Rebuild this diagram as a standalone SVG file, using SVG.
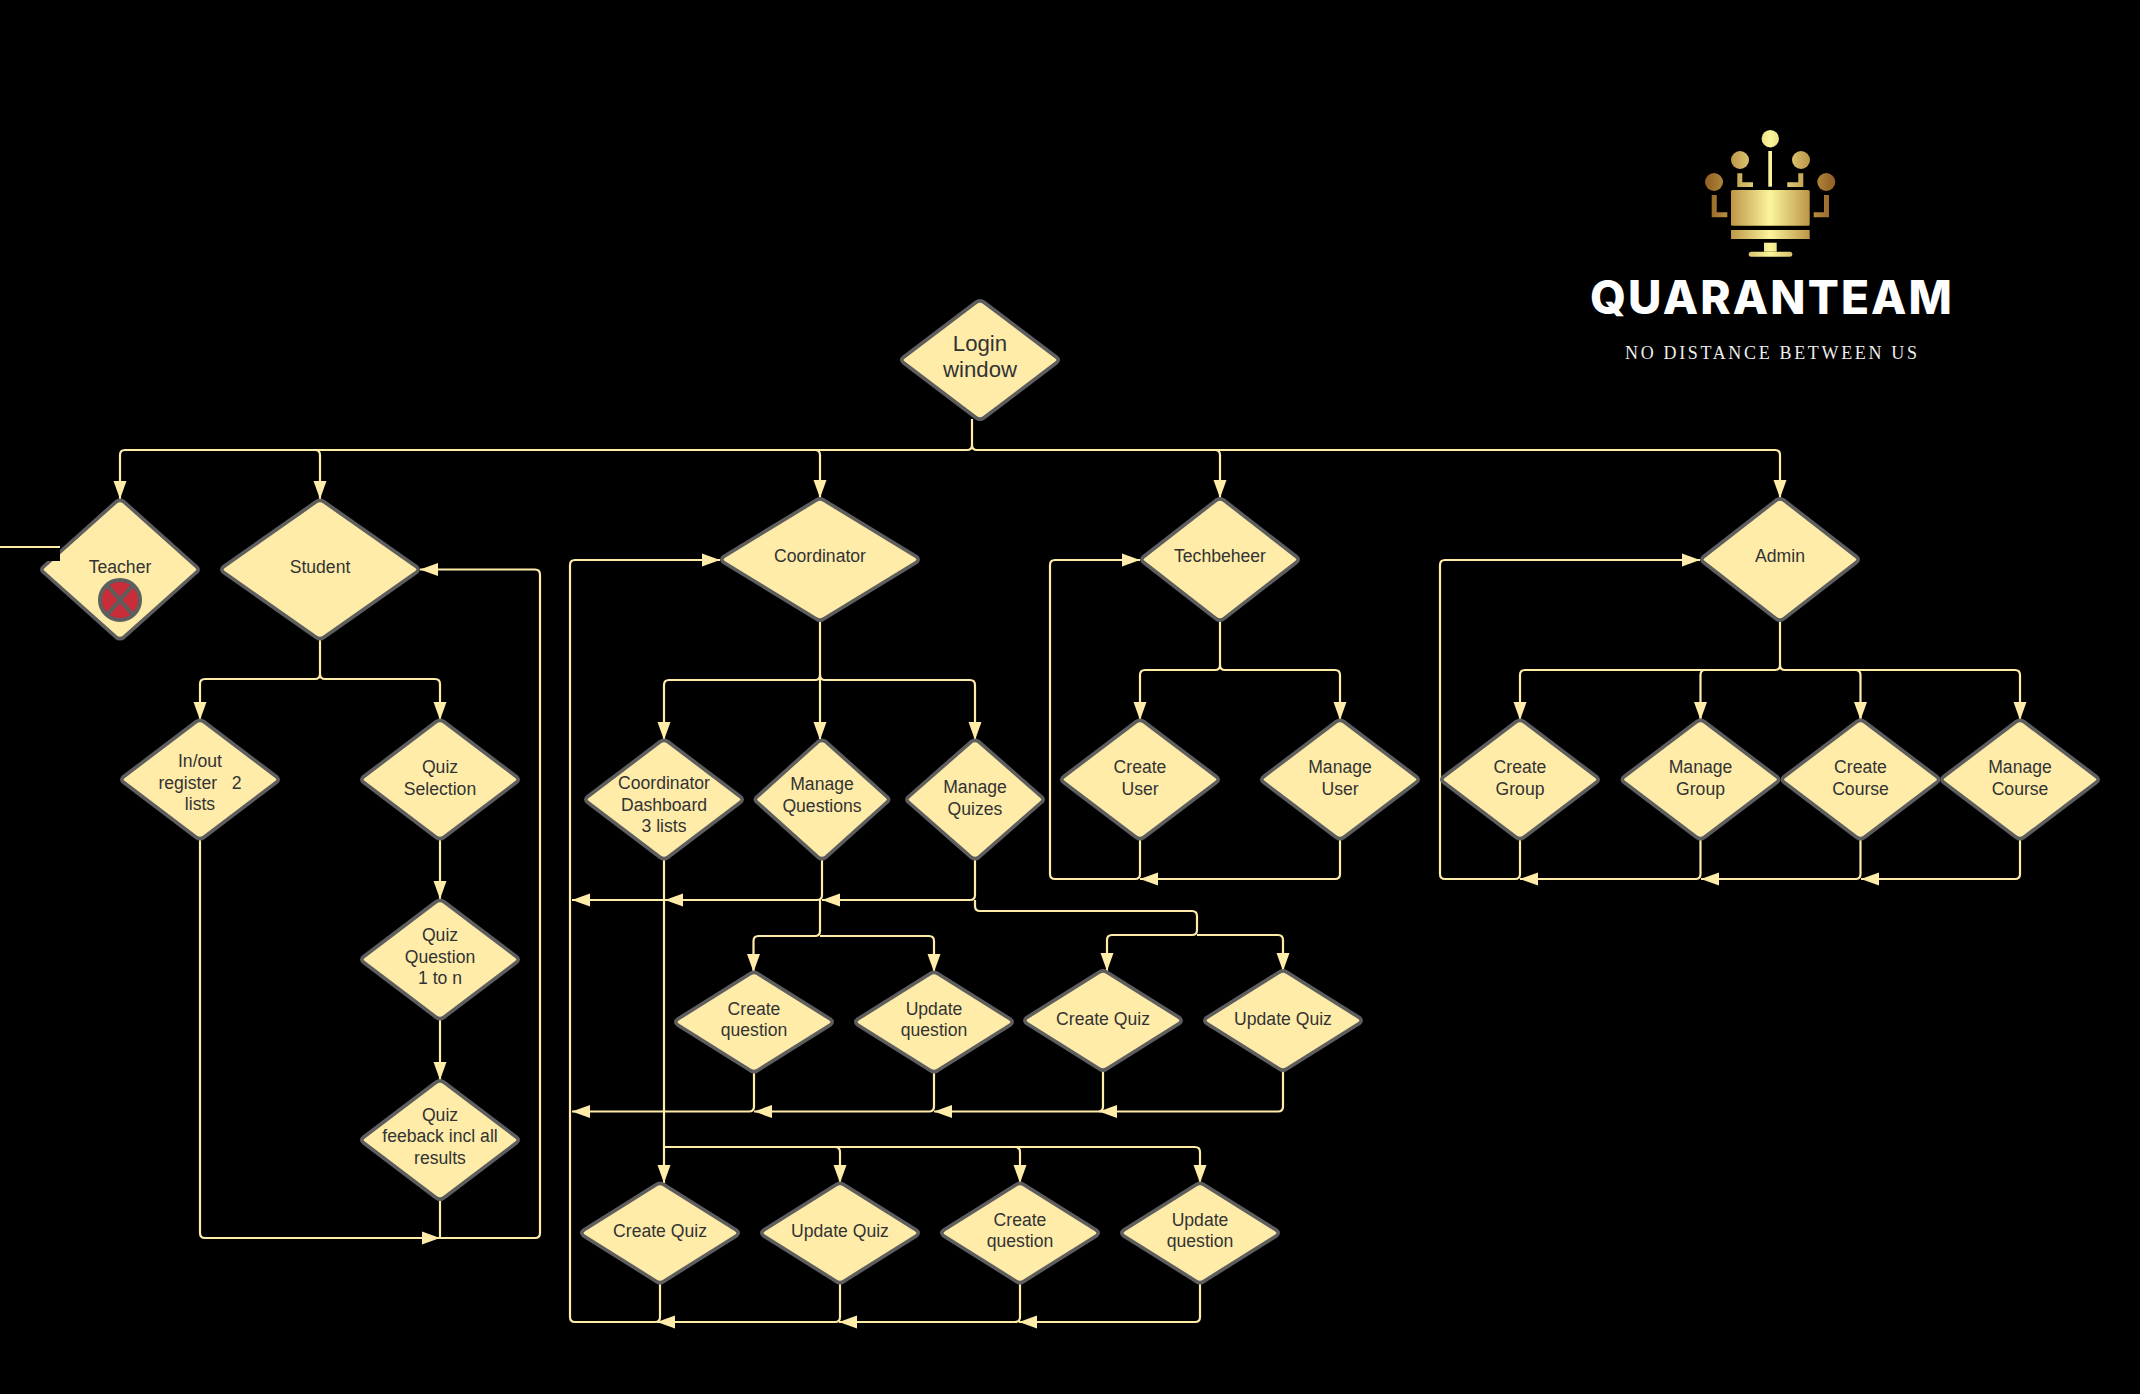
<svg xmlns="http://www.w3.org/2000/svg" width="2140" height="1394" viewBox="0 0 2140 1394">
<style>
.c{fill:none;stroke:#ffeca9;stroke-width:2.2}
.a{marker-end:url(#ah)}
.n{fill:#ffeca9;stroke:#5e5e5e;stroke-width:3.6;stroke-linejoin:round}
text{font-family:"Liberation Sans",Arial,sans-serif;font-size:17.6px;fill:#333;text-anchor:middle}
</style>
<defs>
<marker id="ah" markerUnits="userSpaceOnUse" markerWidth="19" markerHeight="16" refX="18" refY="7.5" orient="auto"><path d="M0 1L18 7.500L0 14Z" fill="#ffeca9"/></marker>
<path id="d78" d="M-4-57.700Q0-60.700 4-57.700L76.200-3Q80.200 0 76.200 3L4 57.700Q0 60.700-4 57.700L-76.200 3Q-80.200 0-76.200-3Z"/>
<path id="s78" d="M-4-48.200Q0-51.200 4-48.200L76.200-3Q80.200 0 76.200 3L4 48.200Q0 51.200-4 48.200L-76.200 3Q-80.200 0-76.200-3Z"/>
<path id="t78" d="M-4-59.200Q0-62.200 4-59.200L76.200-3Q80.200 0 76.200 3L4 59.200Q0 62.200-4 59.200L-76.200 3Q-80.200 0-76.200-3Z"/>
<linearGradient id="g" gradientUnits="userSpaceOnUse" x1="1705" y1="0" x2="1835" y2="0"><stop offset="0" stop-color="#8f5e22"/><stop offset=".2" stop-color="#bd9748"/><stop offset=".5" stop-color="#fbf59b"/><stop offset=".8" stop-color="#bd9748"/><stop offset="1" stop-color="#8f5e22"/></linearGradient>
</defs>
<rect width="2140" height="1394" fill="#000"/>
<g id="connectors">
<path class="c a" d="M972 419V445Q972 450 967 450H125Q120 450 120 455V499"/>
<path class="c a" d="M315 450Q320 450 320 455V499"/>
<path class="c a" d="M815 450Q820 450 820 455V498"/>
<path class="c a" d="M972 445Q972 450 977 450H1775Q1780 450 1780 455V498"/>
<path class="c a" d="M1215 450Q1220 450 1220 455V498"/>
<path class="c" d="M0 547H60"/>
<path class="c" d="M320 638V674Q320 679 315 679H205Q200 679 200 684"/>
<path class="c a" d="M200 684V720"/>
<path class="c a" d="M320 674Q320 679 325 679H435Q440 679 440 684V720"/>
<path class="c a" d="M440 838V899"/>
<path class="c a" d="M440 1018V1080"/>
<path class="c a" d="M200 838V1233Q200 1238 205 1238H440"/>
<path class="c a" d="M440 1198V1238H535Q540 1238 540 1233V574.500Q540 569.500 535 569.500H420"/>
<path class="c a" d="M820 619.500V675Q820 680 815 680H669Q664 680 664 685V740"/>
<path class="c a" d="M820 675V740"/>
<path class="c a" d="M820 675Q820 680 825 680H970Q975 680 975 685V740"/>
<path class="c" d="M664 858V1147"/>
<path class="c a" d="M664 1147V1183"/>
<path class="c a" d="M664 1147H835Q840 1147 840 1152V1183"/>
<path class="c a" d="M835 1147Q840 1147 845 1147H1015Q1020 1147 1020 1152V1183"/>
<path class="c a" d="M1015 1147Q1020 1147 1025 1147H1195Q1200 1147 1200 1152V1183"/>
<path class="c a" d="M975 858V895Q975 900 970 900H822"/>
<path class="c a" d="M822 858V895Q822 900 817 900H665"/>
<path class="c a" d="M665 900H572"/>
<path class="c" d="M820 900V931Q820 936 815 936H758.500Q753.500 936 753.500 941"/>
<path class="c a" d="M753.500 941V972"/>
<path class="c a" d="M820 936H929Q934 936 934 941V972"/>
<path class="c a" d="M975 900V906Q975 911 980 911H1192Q1197 911 1197 916V930Q1197 935 1192 935H1112Q1107 935 1107 940V971"/>
<path class="c a" d="M1197 935H1278Q1283 935 1283 940V971"/>
<path class="c a" d="M1283 1069V1106.500Q1283 1111.500 1278 1111.500H1099"/>
<path class="c a" d="M1103 1069V1106.500Q1103 1111.500 1098 1111.500H934"/>
<path class="c a" d="M934 1071V1106.500Q934 1111.500 929 1111.500H754"/>
<path class="c a" d="M754 1071V1106.500Q754 1111.500 749 1111.500H572"/>
<path class="c a" d="M1200 1282V1317Q1200 1322 1195 1322H1019"/>
<path class="c a" d="M1020 1282V1317Q1020 1322 1015 1322H839"/>
<path class="c a" d="M840 1282V1317Q840 1322 835 1322H657"/>
<path class="c" d="M660 1282V1317Q660 1322 655 1322H575Q570 1322 570 1317V565Q570 560 575 560H660"/>
<path class="c a" d="M660 560H720"/>
<path class="c a" d="M1220 619.500V665Q1220 670 1215 670H1145Q1140 670 1140 675V720"/>
<path class="c a" d="M1220 665Q1220 670 1225 670H1335Q1340 670 1340 675V720"/>
<path class="c a" d="M1340 838V874Q1340 879 1335 879H1140"/>
<path class="c a" d="M1140 838V874Q1140 879 1135 879H1055Q1050 879 1050 874V565Q1050 560 1055 560H1140"/>
<path class="c a" d="M1780 619.500V665Q1780 670 1775 670H1525Q1520 670 1520 675V720"/>
<path class="c a" d="M1705 670Q1700.500 670 1700.500 675V720"/>
<path class="c a" d="M1855 670Q1860.500 670 1860.500 675V720"/>
<path class="c a" d="M1780 665Q1780 670 1785 670H2015Q2020 670 2020 675V720"/>
<path class="c a" d="M2020 838V874Q2020 879 2015 879H1861"/>
<path class="c a" d="M1860.500 838V874Q1860.500 879 1855.500 879H1701"/>
<path class="c a" d="M1700.500 838V874Q1700.500 879 1695.500 879H1520"/>
<path class="c a" d="M1520 838V874Q1520 879 1515 879H1445Q1440 879 1440 874V565Q1440 560 1445 560H1700"/>
</g>
<g id="login"><use href="#d78" class="n" transform="translate(980 360)"/><text style="font-size:22.2px"><tspan x="980" y="351">Login</tspan><tspan x="980" y="377">window</tspan></text></g>
<g id="teacher"><path class="n" transform="translate(120 569.500)" d="M-4-67.700Q0-70.700 4-67.700L76.200-3Q80.200 0 76.200 3L4 67.700Q0 70.700-4 67.700L-76.200 3Q-80.200 0-76.200-3Z"/><rect x="30" y="549" width="30" height="12" fill="#000"/><text x="120" y="573">Teacher</text><circle cx="120" cy="600" r="20" fill="#c92d39" stroke="#5e5e5e" stroke-width="4"/><path d="M107 585L133 615M133 585L107 615" stroke="#5e5e5e" stroke-width="4" fill="none"/></g>
<g id="student"><path class="n" transform="translate(320 569.500)" d="M-4-67.700Q0-70.700 4-67.700L96.200-3Q100.200 0 96.200 3L4 67.700Q0 70.700-4 67.700L-96.200 3Q-100.200 0-96.200-3Z"/><text x="320" y="573">Student</text></g>
<g id="inout"><use href="#d78" class="n" transform="translate(200 779.500)"/><text><tspan x="200" y="767">In/out</tspan><tspan x="200" y="788.700">register&#160;&#160; 2</tspan><tspan x="200" y="809.500">lists</tspan></text></g>
<g id="quiz-selection"><use href="#d78" class="n" transform="translate(440 779.500)"/><text><tspan x="440" y="773">Quiz</tspan><tspan x="440" y="795">Selection</tspan></text></g>
<g id="quiz-question"><use href="#d78" class="n" transform="translate(440 959.500)"/><text><tspan x="440" y="941">Quiz</tspan><tspan x="440" y="962.500">Question</tspan><tspan x="440" y="984">1 to n</tspan></text></g>
<g id="quiz-feedback"><use href="#d78" class="n" transform="translate(440 1140)"/><text><tspan x="440" y="1121">Quiz</tspan><tspan x="440" y="1142">feeback incl all</tspan><tspan x="440" y="1163.500">results</tspan></text></g>
<g id="coordinator"><path class="n" transform="translate(820 559.500)" d="M-4-59.200Q0-62.200 4-59.200L96.200-3Q100.200 0 96.200 3L4 59.200Q0 62.200-4 59.200L-96.200 3Q-100.200 0-96.200-3Z"/><text x="820" y="562">Coordinator</text></g>
<g id="techbeheer"><use href="#t78" class="n" transform="translate(1220 559.500)"/><text x="1220" y="562">Techbeheer</text></g>
<g id="admin"><use href="#t78" class="n" transform="translate(1780 559.500)"/><text x="1780" y="562">Admin</text></g>
<g id="coord-dashboard"><use href="#d78" class="n" transform="translate(664 799.500)"/><text><tspan x="664" y="789">Coordinator</tspan><tspan x="664" y="811">Dashboard</tspan><tspan x="664" y="832">3 lists</tspan></text></g>
<g id="manage-questions"><path class="n" transform="translate(822 799.500)" d="M-4-57.700Q0-60.700 4-57.700L64.700-3Q68.700 0 64.700 3L4 57.700Q0 60.700-4 57.700L-64.700 3Q-68.700 0-64.700-3Z"/><text><tspan x="822" y="790">Manage</tspan><tspan x="822" y="812">Questions</tspan></text></g>
<g id="manage-quizes"><path class="n" transform="translate(975 799.500)" d="M-4-57.700Q0-60.700 4-57.700L66.200-3Q70.200 0 66.200 3L4 57.700Q0 60.700-4 57.700L-66.200 3Q-70.200 0-66.200-3Z"/><text><tspan x="975" y="793">Manage</tspan><tspan x="975" y="815">Quizes</tspan></text></g>
<g id="create-user"><use href="#d78" class="n" transform="translate(1140 779.500)"/><text><tspan x="1140" y="773">Create</tspan><tspan x="1140" y="795">User</tspan></text></g>
<g id="manage-user"><use href="#d78" class="n" transform="translate(1340 779.500)"/><text><tspan x="1340" y="773">Manage</tspan><tspan x="1340" y="795">User</tspan></text></g>
<g id="create-group"><use href="#d78" class="n" transform="translate(1520 779.500)"/><text><tspan x="1520" y="773">Create</tspan><tspan x="1520" y="795">Group</tspan></text></g>
<g id="manage-group"><use href="#d78" class="n" transform="translate(1700.500 779.500)"/><text><tspan x="1700.500" y="773">Manage</tspan><tspan x="1700.500" y="795">Group</tspan></text></g>
<g id="create-course"><use href="#d78" class="n" transform="translate(1860.500 779.500)"/><text><tspan x="1860.500" y="773">Create</tspan><tspan x="1860.500" y="795">Course</tspan></text></g>
<g id="manage-course"><use href="#d78" class="n" transform="translate(2020 779.500)"/><text><tspan x="2020" y="773">Manage</tspan><tspan x="2020" y="795">Course</tspan></text></g>
<g id="create-question-1"><use href="#s78" class="n" transform="translate(754 1022)"/><text><tspan x="754" y="1014.700">Create</tspan><tspan x="754" y="1036">question</tspan></text></g>
<g id="update-question-1"><use href="#s78" class="n" transform="translate(934 1022)"/><text><tspan x="934" y="1014.700">Update</tspan><tspan x="934" y="1036">question</tspan></text></g>
<g id="create-quiz-1"><use href="#s78" class="n" transform="translate(1103 1020.500)"/><text x="1103" y="1025">Create Quiz</text></g>
<g id="update-quiz-1"><use href="#s78" class="n" transform="translate(1283 1020.500)"/><text x="1283" y="1025">Update Quiz</text></g>
<g id="create-quiz-2"><use href="#s78" class="n" transform="translate(660 1233)"/><text x="660" y="1237">Create Quiz</text></g>
<g id="update-quiz-2"><use href="#s78" class="n" transform="translate(840 1233)"/><text x="840" y="1237">Update Quiz</text></g>
<g id="create-question-2"><use href="#s78" class="n" transform="translate(1020 1233)"/><text><tspan x="1020" y="1225.700">Create</tspan><tspan x="1020" y="1247">question</tspan></text></g>
<g id="update-question-2"><use href="#s78" class="n" transform="translate(1200 1233)"/><text><tspan x="1200" y="1225.700">Update</tspan><tspan x="1200" y="1247">question</tspan></text></g>
<g id="logo">
<g fill="url(#g)">
<circle cx="1770.300" cy="138.700" r="8.700"/><circle cx="1740" cy="160" r="9"/><circle cx="1801" cy="160" r="9"/><circle cx="1714" cy="182" r="9"/><circle cx="1826.300" cy="182" r="9"/>
<rect x="1768.300" y="151" width="3.700" height="35.700"/>
<rect x="1731" y="190" width="78.700" height="35.700" rx="1.500"/>
<rect x="1731" y="230" width="78.700" height="9"/>
<rect x="1764" y="242.700" width="12.700" height="9"/>
<rect x="1748.700" y="251.700" width="43.600" height="5" rx="2.500"/>
<path d="M1711.700 195h5v17.300h10.600v5h-15.600zM1829 195h-5v17.300h-10.300v5h15.300zM1737.300 173.300h5v9h10.700v4.700h-15.700zM1803.300 173.300h-5v9h-11v4.700h16z"/>
</g>
<text x="1771" y="314" textLength="362" lengthAdjust="spacing" style="font-family:Inter,'Liberation Sans',sans-serif;font-weight:800;font-size:46px;fill:#fff">QUARANTEAM</text>
<text x="1771" y="359" textLength="292" lengthAdjust="spacing" style="font-family:'Liberation Serif',serif;font-size:18px;fill:#eee">NO DISTANCE BETWEEN US</text>
</g>
</svg>
